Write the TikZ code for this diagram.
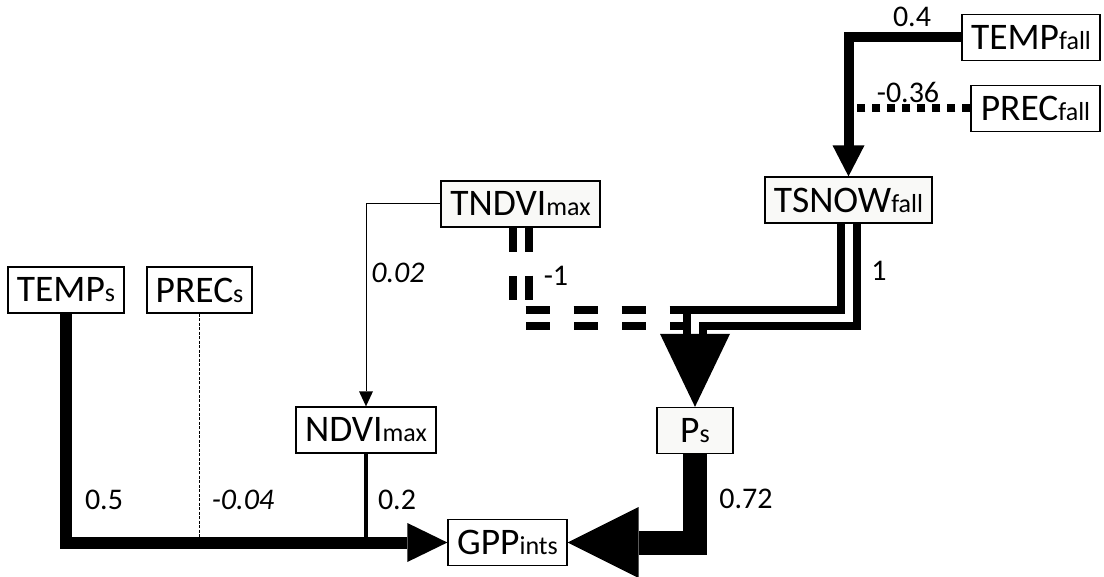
\documentclass[tikz,border=0pt]{standalone}
\usepackage{fontspec}
\setmainfont{Carlito}
\usetikzlibrary{calc}
\newcommand\subtx[1]{{\fontsize{26}{30}\selectfont #1}}
\definecolor{boxgray}{RGB}{249,249,247}
\begin{document}
\begin{tikzpicture}[x=1pt,y=-1pt,
  box/.style={draw, line width=1.3pt, inner sep=0pt, minimum height=46pt, font=\fontsize{37.5}{42}\selectfont, fill=white},
  gbox/.style={box, fill=boxgray},
  lbl/.style={font=\fontsize{30}{36}\selectfont, inner sep=0pt},
  ilbl/.style={font=\fontsize{30}{36}\selectfont\itshape, inner sep=0pt},
  conn/.style={line join=miter, line cap=butt},
  dbl/.style={line width=8pt, double=white, double distance=8pt, line join=miter}]
\useasboundingbox (0,0) rectangle (1104,577);

% nodes
\node[box, minimum width=138pt] (tempf) at (1031,37.5) {TEMP\subtx{fall}};
\node[box, minimum width=129pt] (precf) at (1035.5,108.5) {PREC\subtx{fall}};
\node[gbox, minimum width=167pt] (tsnow) at (848.5,200) {TSNOW\subtx{fall}};
\node[gbox, minimum width=159pt] (tndvi) at (520.5,204) {TNDVI\subtx{max}};
\node[box, minimum width=116pt] (temps) at (66,290) {TEMP\subtx{s}};
\node[box, minimum width=105pt] (precs) at (199.5,290) {PREC\subtx{s}};
\node[box, minimum width=140pt] (ndvi) at (366,430) {NDVI\subtx{max}};
\node[gbox, minimum width=76pt] (ps) at (695,430.5) {P\subtx{s}};
\node[box, minimum width=119pt] (gpp) at (507.5,542.5) {GPP\subtx{ints}};
\coordinate (j) at (695,318.5);

% TEMPfall -> TSNOWfall
\draw[conn, line width=10pt, shorten >=30pt] (tempf.west) -| (tsnow.north);
\fill (tsnow.north) -- ++(-16,-31) -- ++(32,0) -- cycle;
% PRECfall -> (dotted)
\draw[line width=8pt, dash pattern=on 8pt off 7pt] (precf.west) -- (precf.west -| tsnow.north);

% TNDVImax -> NDVImax
\draw[line width=1pt, shorten >=15pt] (tndvi.west) -| (ndvi.north);
\fill (ndvi.north) -- ++(-7,-15) -- ++(14,0) -- cycle;

% TNDVImax -> Ps (double dashed)
\draw[dbl, dash pattern=on 24pt off 24pt] (tndvi.south) |- (j);
% TSNOWfall -> Ps (double)
\draw[dbl, shorten >=73pt] (tsnow.south) |- (j) -- (ps.north);
\fill (ps.north) -- ++(-35,-73) -- ++(70,0) -- cycle;

% PRECs (thin dashed), NDVImax
\draw[line width=0.8pt, dash pattern=on 3pt off 1.5pt] (precs.south) -- (precs.south |- gpp.west);
\draw[line width=4.5pt] (ndvi.south) -- (ndvi.south |- gpp.west);
% TEMPs -> GPP
\draw[conn, line width=12pt, shorten >=40pt] (temps.south) |- (gpp.west);
\fill (gpp.west) -- ++(-40,-19.5) -- ++(0,39) -- cycle;
% Ps -> GPP
\draw[conn, line width=24pt, shorten >=71pt] (ps.south) |- (gpp.east);
\fill (gpp.east) -- ++(71,-35.5) -- ++(0,71) -- cycle;

% labels
\node[lbl] (l1) at (912,17) {0.4};
\node[lbl] (l2) at (908,92) {-0.36};
\node[lbl] (l3) at (879,271) {1};
\node[lbl] (l4) at (556,276) {-1};
\node[ilbl] (l5) at (398,273) {0.02};
\node[lbl] (l6) at (104,500) {0.5};
\node[ilbl] (l7) at (243,500) {-0.04};
\node[lbl] (l8) at (397,500) {0.2};
\node[lbl] (l9) at (746,499) {0.72};
\end{tikzpicture}
\end{document}
